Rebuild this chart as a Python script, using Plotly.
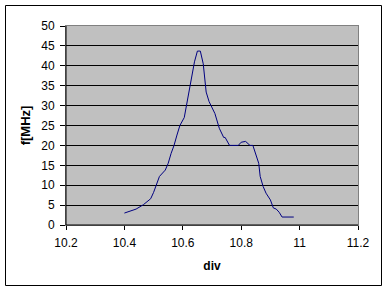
import plotly.graph_objects as go

div = [10.40, 10.42, 10.44, 10.465, 10.49, 10.50, 10.51, 10.52, 10.54, 10.55, 10.56, 10.57,
       10.58, 10.59, 10.605, 10.61, 10.62, 10.63, 10.64, 10.65, 10.66, 10.67, 10.68, 10.69,
       10.71, 10.725, 10.74, 10.745, 10.76, 10.79, 10.80, 10.815, 10.83, 10.84, 10.85, 10.86,
       10.865, 10.875, 10.885, 10.90, 10.91, 10.92, 10.93, 10.94, 10.98]
f_mhz = [3.0, 3.6, 4.0, 5.1, 6.6, 8.2, 10, 12.2, 13.8, 15.5, 18, 20,
         22.6, 25, 27, 29, 33, 37.6, 41, 43.7, 43.7, 40.5, 33.4, 31,
         28, 24.3, 22, 22, 20, 20, 20.8, 21, 20, 20, 18, 15.5,
         12.2, 9.7, 8, 6.3, 4.3, 4, 3.2, 2, 2]

W, H = 388, 296
ml, mr, mt, mb = 66, 30, 26, 71
pw, ph = W - ml - mr, H - mt - mb

def px(x):
    return (x - ml) / pw

def py(y):
    return (H - mb - y) / ph

fig = go.Figure()
fig.add_trace(go.Scatter(x=div, y=f_mhz, mode="lines",
                         line=dict(color="#000080", width=1), showlegend=False))

font = dict(family="Liberation Sans, Arial", size=12, color="black")
fig.update_layout(
    width=W, height=H,
    margin=dict(l=ml, r=mr, t=mt, b=mb),
    paper_bgcolor="white", plot_bgcolor="#C0C0C0",
    font=font,
    xaxis=dict(range=[10.2, 11.2], dtick=0.2, tick0=10.2, showgrid=False,
               ticks="outside", ticklen=4, tickcolor="black", ticklabelstandoff=3,
               showline=True, linecolor="#808080", mirror=True, zeroline=False,
               tickformat="~g",
               title=dict(text="<b>div</b>", font=dict(size=12), standoff=12)),
    yaxis=dict(range=[0, 50], dtick=5, showgrid=True, gridcolor="black", gridwidth=1,
               ticks="outside", ticklen=5, tickcolor="black", ticklabelstandoff=3,
               showline=True, linecolor="#808080", mirror=True, zeroline=False,
               title=dict(text="<b>f[MHz]</b>", font=dict(size=13), standoff=7)),
    shapes=[
        dict(type="rect", xref="paper", yref="paper",
             x0=px(5.5), x1=px(381.5), y0=py(285.5), y1=py(5.5),
             line=dict(color="black", width=1), fillcolor="rgba(0,0,0,0)", layer="above"),
        dict(type="line", xref="paper", yref="paper", x0=0, x1=0, y0=0, y1=1,
             line=dict(color="black", width=1), layer="above"),
        dict(type="line", xref="paper", yref="paper", x0=0, x1=1, y0=0, y1=0,
             line=dict(color="black", width=1), layer="above"),
    ],
)

fig.write_html("out.html")
